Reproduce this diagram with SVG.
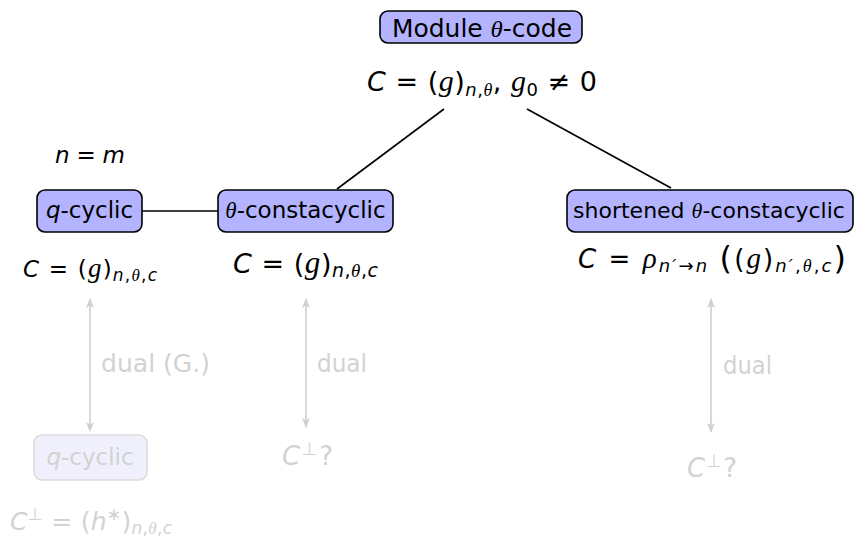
<svg xmlns="http://www.w3.org/2000/svg" width="855" height="539" viewBox="0 0 855 539">
<defs>
<style>
.box{fill:#b3b3ff;stroke:#000;stroke-width:1.6}
.fbox{fill:#f0f0fd;stroke:#dcdcdc;stroke-width:1.6}
.t{font-family:"DejaVu Sans","Liberation Sans",sans-serif;fill:#000}
.f{fill:#d2d2d2}
.it{font-style:italic}
.sr{font-family:"Liberation Serif","DejaVu Serif",serif;font-style:italic}
.edge{stroke:#000;stroke-width:1.6;fill:none}
.gedge{stroke:#d0d0d0;stroke-width:1.6;fill:none}
</style>
<marker id="ah" viewBox="0 0 10 10" refX="9" refY="5" markerWidth="10" markerHeight="10" orient="auto-start-reverse" markerUnits="userSpaceOnUse">
<path d="M0,1 L10,5 L0,9 L2.5,5 Z" fill="#d0d0d0"/>
</marker>
</defs>

<g id="connectors">
<line class="edge" x1="444" y1="109" x2="337" y2="189"/>
<line class="edge" x1="527" y1="109" x2="671" y2="188"/>
<line class="edge" x1="142" y1="211" x2="218" y2="211"/>
<line class="gedge" x1="90" y1="299" x2="90" y2="431" marker-start="url(#ah)" marker-end="url(#ah)"/>
<line class="gedge" x1="306" y1="299" x2="306" y2="427" marker-start="url(#ah)" marker-end="url(#ah)"/>
<line class="gedge" x1="711" y1="299" x2="711" y2="432" marker-start="url(#ah)" marker-end="url(#ah)"/>
<text class="t f" x="101" y="372" font-size="24" textLength="109" lengthAdjust="spacingAndGlyphs">dual (G.)</text>
<text class="t f" x="317" y="372" font-size="24" textLength="50" lengthAdjust="spacingAndGlyphs">dual</text>
<text class="t f" x="723" y="374" font-size="24" textLength="49" lengthAdjust="spacingAndGlyphs">dual</text>
</g>

<g id="module">
<rect class="box" x="380" y="11" width="202" height="32" rx="8"/>
<text class="t" x="392" y="37" font-size="24" textLength="180" lengthAdjust="spacingAndGlyphs">Module <tspan class="sr">θ</tspan>-code</text>
<text class="t" x="367" y="91" font-size="27" textLength="230"><tspan class="it">C</tspan> = (<tspan class="sr" font-size="30">g</tspan>)<tspan class="it" font-size="18" dy="5">n</tspan><tspan font-size="18">,</tspan><tspan class="sr" font-size="18">θ</tspan><tspan dy="-5">, </tspan><tspan class="sr" font-size="30">g</tspan><tspan font-size="18" dy="5">0</tspan><tspan dy="-5"> ≠ 0</tspan></text>
</g>

<g id="nm">
<text class="t" x="55" y="163" font-size="23" textLength="70"><tspan class="it">n</tspan> = <tspan class="it">m</tspan></text>
</g>

<g id="qcyclic">
<rect class="box" x="37" y="190" width="105" height="42" rx="8"/>
<text class="t" x="89.5" y="218" font-size="23" text-anchor="middle"><tspan class="it">q</tspan>-cyclic</text>
<text class="t" x="23" y="277" font-size="23" textLength="134"><tspan class="it">C</tspan> = (<tspan class="sr" font-size="27">g</tspan>)<tspan class="it" font-size="17" dy="4">n</tspan><tspan font-size="17">,</tspan><tspan class="sr" font-size="17">θ</tspan><tspan font-size="17">,</tspan><tspan class="it" font-size="17">c</tspan></text>
</g>

<g id="constacyclic">
<rect class="box" x="218" y="190" width="175" height="42" rx="8"/>
<text class="t" x="305.5" y="218" font-size="23" text-anchor="middle"><tspan class="sr">θ</tspan>-constacyclic</text>
<text class="t" x="233" y="273" font-size="27" textLength="145"><tspan class="it">C</tspan> = (<tspan class="sr" font-size="31">g</tspan>)<tspan class="it" font-size="19" dy="4">n</tspan><tspan font-size="19">,</tspan><tspan class="sr" font-size="19">θ</tspan><tspan font-size="19">,</tspan><tspan class="it" font-size="19">c</tspan></text>
</g>

<g id="shortened">
<rect class="box" x="567" y="190" width="286" height="42" rx="8"/>
<text class="t" x="709" y="218" font-size="22" text-anchor="middle">shortened <tspan class="sr">θ</tspan>-constacyclic</text>
<text class="t" x="578" y="268" font-size="26" textLength="268"><tspan class="it">C</tspan> = <tspan class="sr" font-size="29">ρ</tspan><tspan class="it" font-size="18" dy="4">n′</tspan><tspan font-size="18">→</tspan><tspan class="it" font-size="18">n</tspan><tspan dy="-4"> </tspan><tspan font-size="32" dy="1">(</tspan><tspan dy="-1">(</tspan><tspan class="sr" font-size="29">g</tspan>)<tspan class="it" font-size="18" dy="4">n′</tspan><tspan font-size="18">,</tspan><tspan class="sr" font-size="18">θ</tspan><tspan font-size="18">,</tspan><tspan class="it" font-size="18">c</tspan><tspan font-size="32" dy="-3">)</tspan></text>
</g>

<g id="qcyclic-dual">
<rect class="fbox" x="34" y="435" width="113" height="45" rx="8"/>
<text class="t f" x="90" y="465" font-size="23" text-anchor="middle"><tspan class="it">q</tspan>-cyclic</text>
<text class="t f" x="10" y="530" font-size="25" textLength="162"><tspan class="it">C</tspan><tspan font-size="17" dy="-10">⊥</tspan><tspan dy="10"> = (</tspan><tspan class="it">h</tspan><tspan font-size="17" dy="-10">∗</tspan><tspan dy="10">)</tspan><tspan class="it" font-size="17" dy="4">n</tspan><tspan font-size="17">,</tspan><tspan class="sr" font-size="17">θ</tspan><tspan font-size="17">,</tspan><tspan class="it" font-size="17">c</tspan></text>
</g>

<g id="constacyclic-dual">
<text class="t f" x="282" y="465" font-size="26" textLength="51"><tspan class="it">C</tspan><tspan font-size="18" dy="-10">⊥</tspan><tspan dy="10">?</tspan></text>
</g>

<g id="shortened-dual">
<text class="t f" x="687" y="477" font-size="26" textLength="50"><tspan class="it">C</tspan><tspan font-size="18" dy="-10">⊥</tspan><tspan dy="10">?</tspan></text>
</g>
</svg>
